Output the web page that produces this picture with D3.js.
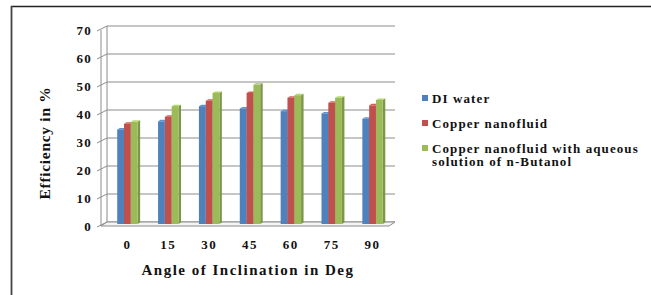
<!DOCTYPE html>
<html><head><meta charset="utf-8">
<script src="https://cdn.jsdelivr.net/npm/d3@7"></script>
<style>body{margin:0;background:#fff}svg{display:block}text{font-family:"Liberation Serif","Times New Roman",serif;font-weight:bold;fill:#111}</style>
</head><body>
<script>
const categories = ["0","15","30","45","60","75","90"];
const seriesNames = ["DI water","Copper nanofluid","Copper nanofluid with aqueous solution of n-Butanol"];
const diWater = [34.5, 37.4, 42.8, 42.0, 41.0, 40.2, 38.3];
const copper = [36.5, 39.0, 44.7, 47.5, 45.8, 44.0, 43.1];
const copperButanol = [37.2, 42.8, 47.5, 50.5, 46.7, 45.8, 45.0];
const yTicks = [0,10,20,30,40,50,60,70];
const colors = ["#4F81BD","#C0504D","#9BBB59"];
const series = [diWater, copper, copperButanol];

const W = 651, H = 295;
const svg = d3.select("body").append("svg").attr("width", W).attr("height", H);

// frame
svg.append("line").attr("x1",11).attr("x2",W).attr("y1",6.5).attr("y2",6.5).attr("stroke","#222").attr("stroke-width",1.6);
svg.append("line").attr("x1",11.5).attr("x2",11.5).attr("y1",6).attr("y2",H).attr("stroke","#444").attr("stroke-width",1.8);

const dx = 6, dy = 4; // 3D depth offset
const xLeft = 101, xRight = 389;
const y = d3.scaleLinear().domain([0,70]).range([226,30]);
const x = d3.scaleBand().domain(categories).range([xLeft+6, xRight+4]).paddingInner(0.5).paddingOuter(0.25);
const xs = d3.scaleBand().domain([0,1,2]).range([0, x.bandwidth()]);

// back wall grid
const g = svg.append("g");
yTicks.forEach(t => {
  const yy = y(t);
  g.append("line").attr("x1",xLeft+dx).attr("x2",xRight+dx).attr("y1",yy-dy).attr("y2",yy-dy).attr("stroke","#8c8c8c").attr("stroke-width",1);
  g.append("line").attr("x1",xLeft-4).attr("x2",xLeft+dx).attr("y1",yy+1).attr("y2",yy-dy).attr("stroke","#8c8c8c").attr("stroke-width",1);
});
// left wall edges
g.append("line").attr("x1",xLeft).attr("x2",xLeft).attr("y1",y(70)).attr("y2",y(0)).attr("stroke","#8c8c8c");
g.append("line").attr("x1",xLeft+dx).attr("x2",xLeft+dx).attr("y1",y(70)-dy).attr("y2",y(0)-dy).attr("stroke","#8c8c8c");
// floor
g.append("path").attr("d",`M${xLeft},${y(0)}L${xRight},${y(0)}L${xRight+dx},${y(0)-dy}L${xLeft+dx},${y(0)-dy}Z`).attr("fill","#f4f4f4").attr("stroke","#8c8c8c");

// y tick labels
yTicks.forEach(t => {
  svg.append("text").attr("x",92).attr("y",y(t)).attr("dy","0.35em").attr("text-anchor","end").attr("font-size",13).attr("letter-spacing","1.2").text(t);
});

// bars
const bd = 2.5, bh = 1.5;
categories.forEach((c,i) => {
  for (let s = 0; s < 3; s++) {
    const v = series[s][i];
    const x0 = x(c) + xs(s), w = xs.bandwidth(), y0 = y(v), y1 = y(0)-2;
    const col = d3.color(colors[s]);
    svg.append("path").attr("d",`M${x0+w},${y0}L${x0+w+bd},${y0-bh}L${x0+w+bd},${y1-bh}L${x0+w},${y1}Z`).attr("fill",col.darker(0.6));
    svg.append("path").attr("d",`M${x0},${y0}L${x0+bd},${y0-bh}L${x0+w+bd},${y0-bh}L${x0+w},${y0}Z`).attr("fill",col.brighter(0.4));
    svg.append("rect").attr("x",x0).attr("y",y0).attr("width",w).attr("height",y1-y0).attr("fill",col);
  }
});

// x labels
categories.forEach(c => {
  svg.append("text").attr("x",x(c)+x.bandwidth()/2).attr("y",249).attr("text-anchor","middle").attr("font-size",13).attr("letter-spacing","1.5").text(c);
});
svg.append("text").attr("x",248).attr("y",275).attr("text-anchor","middle").attr("font-size",15).attr("letter-spacing","1.5").text("Angle of Inclination in Deg");
svg.append("text").attr("transform","translate(50,143) rotate(-90)").attr("text-anchor","middle").attr("font-size",15.5).attr("letter-spacing","0.7").text("Efficiency in %");

// legend
const leg = [[98,[seriesNames[0]]],[123,[seriesNames[1]]],[148,["Copper nanofluid with aqueous","solution of n-Butanol"]]];
leg.forEach((l,i) => {
  svg.append("rect").attr("x",422).attr("y",l[0]-3).attr("width",6).attr("height",6).attr("fill",colors[i]);
  l[1].forEach((t,j) => {
    svg.append("text").attr("x",432).attr("y",l[0]+j*13.5).attr("dy","0.35em").attr("font-size",13).attr("letter-spacing","1.1").text(t);
  });
});
</script>
</body></html>
